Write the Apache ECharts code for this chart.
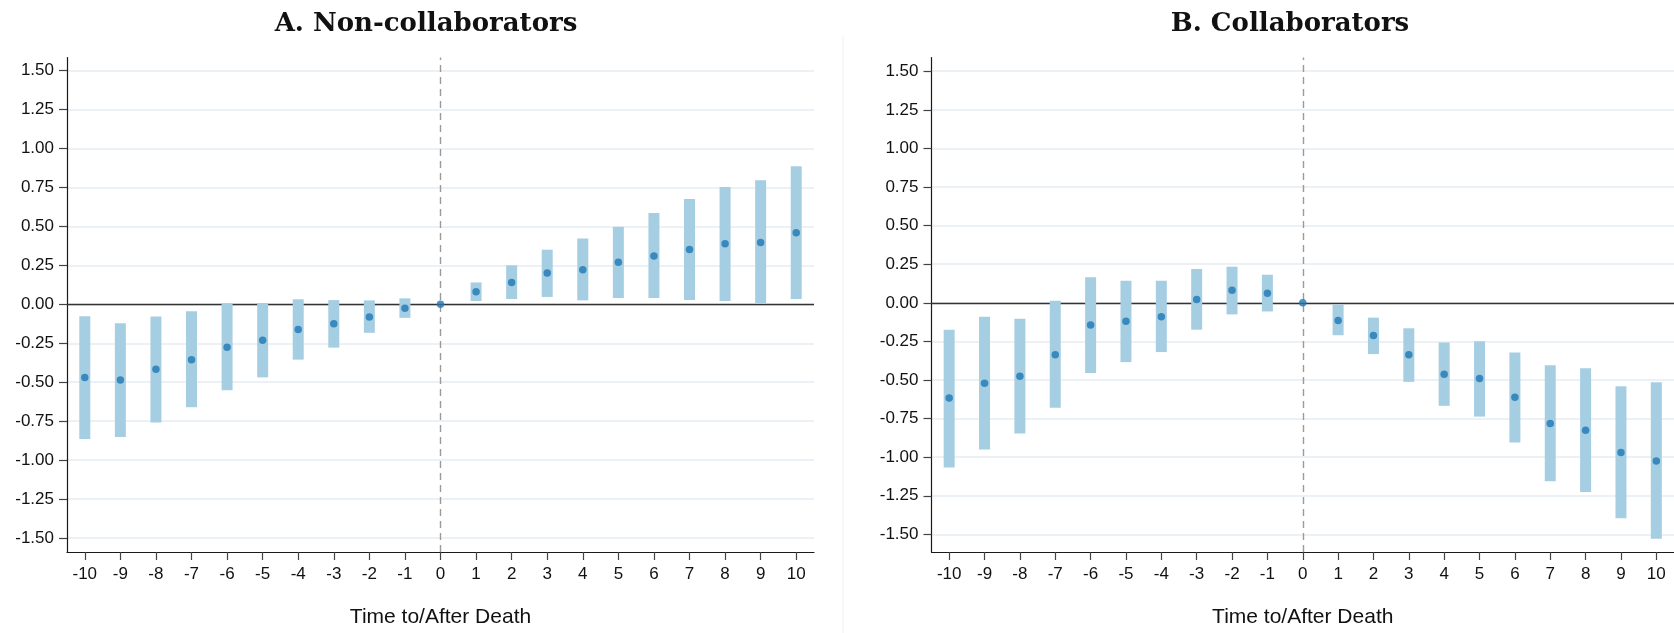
<!DOCTYPE html>
<html>
<head>
<meta charset="utf-8">
<script src="https://cdn.jsdelivr.net/npm/echarts@6/dist/echarts.min.js"></script>
<style>
html,body{margin:0;padding:0;background:#fff;}
#chart{width:1674px;height:633px;}
</style>
</head>
<body>
<div id="chart"></div>
<script>
// ---- data ----
const categories = ['-10','-9','-8','-7','-6','-5','-4','-3','-2','-1','0','1','2','3','4','5','6','7','8','9','10'];
const yTicks = [-1.5,-1.25,-1,-0.75,-0.5,-0.25,0,0.25,0.5,0.75,1,1.25,1.5];

const titleA = 'A. Non-collaborators';
const titleB = 'B. Collaborators';
const xName = 'Time to/After Death';

// Panel A: point estimates and 95% CI bounds
const estA = [-0.469,-0.486,-0.416,-0.355,-0.276,-0.231,-0.161,-0.125,-0.081,-0.025,0,0.081,0.140,0.200,0.221,0.270,0.310,0.352,0.389,0.397,0.459];
const loA  = [-0.864,-0.851,-0.758,-0.660,-0.552,-0.469,-0.355,-0.278,-0.183,-0.087,null,0.021,0.034,0.047,0.025,0.040,0.040,0.027,0.021,0.006,0.034];
const hiA  = [-0.076,-0.121,-0.078,-0.045,0.005,0.008,0.032,0.027,0.025,0.038,null,0.140,0.250,0.350,0.422,0.497,0.586,0.675,0.752,0.796,0.885];

// Panel B
const estB = [-0.617,-0.521,-0.476,-0.337,-0.144,-0.120,-0.090,0.021,0.082,0.062,0,-0.114,-0.212,-0.337,-0.463,-0.491,-0.611,-0.782,-0.825,-0.969,-1.025];
const loB  = [-1.066,-0.950,-0.847,-0.680,-0.455,-0.384,-0.319,-0.174,-0.075,-0.056,null,-0.210,-0.332,-0.512,-0.667,-0.737,-0.905,-1.155,-1.226,-1.395,-1.528];
const hiB  = [-0.174,-0.090,-0.103,0.013,0.165,0.143,0.143,0.219,0.234,0.182,null,-0.011,-0.096,-0.165,-0.257,-0.249,-0.322,-0.405,-0.424,-0.540,-0.514];

// ---- styles ----
const BAR = '#a6cee3', DOT = '#1f78b4', GRID = '#e4edf0', AXIS = '#1a1a1a';
const LF = 'Liberation Sans, Arial, sans-serif';

function ciData(lo, hi){
  const out = [];
  lo.forEach((v,i)=>{ if(v!=null && hi[i]!=null) out.push([i, v, hi[i]]); });
  return out;
}
function renderCI(params, api){
  const i = api.value(0);
  const a = api.coord([i, api.value(1)]);
  const b = api.coord([i, api.value(2)]);
  const w = 11;
  return {type:'rect', shape:{x:a[0]-w/2, y:b[1], width:w, height:a[1]-b[1]}, style:{fill:BAR}};
}
function xAxisCfg(idx){
  return {
    type:'category', gridIndex:idx, data:categories, boundaryGap:true,
    axisLine:{show:true, onZero:false, lineStyle:{color:AXIS, width:1.2}},
    axisTick:{show:true, alignWithLabel:true, length:8, lineStyle:{color:'#444', width:1.2}},
    axisLabel:{show:true, interval:0, margin:14, fontFamily:LF, fontSize:17, color:'#111'},
    splitLine:{show:false},
    name:xName, nameLocation:'middle', nameGap:55,
    nameTextStyle:{fontFamily:LF, fontSize:21, color:'#111'}
  };
}
function yAxisCfg(idx, mn, mx){
  return {
    type:'value', gridIndex:idx, min:mn, max:mx,
    axisLine:{show:true, lineStyle:{color:AXIS, width:1.2}},
    axisTick:{show:true, length:8, customValues:yTicks, lineStyle:{color:'#444', width:1.2}},
    axisLabel:{show:true, margin:13, customValues:yTicks, fontFamily:LF, fontSize:17, color:'#111',
      formatter:v=>v.toFixed(2)},
    splitLine:{show:true, lineStyle:{color:GRID, width:1.5}}
  };
}
function seriesFor(idx, est, lo, hi){
  return [
    {type:'custom', xAxisIndex:idx, yAxisIndex:idx, data:ciData(lo,hi), renderItem:renderCI, z:2, silent:true},
    {type:'scatter', xAxisIndex:idx, yAxisIndex:idx, data:est.map((v,i)=>[i,v]), symbol:'circle', symbolSize:7.5,
      itemStyle:{color:DOT}, z:5, silent:true,
      markLine:{silent:true, symbol:'none', label:{show:false}, z:1,
        data:[
          {yAxis:0, lineStyle:{color:'#333', width:1.4, type:'solid'}},
          {xAxis:10, lineStyle:{color:'#9a9a9a', width:1.4, type:[7,5]}}
        ]}
    }
  ];
}

const chart = echarts.init(document.getElementById('chart'), null, {renderer:'canvas'});
chart.setOption({
  backgroundColor:'#fff',
  animation:false,
  title:[
    {text:titleA, left:421, top:6, textAlign:'center',
      textStyle:{fontFamily:'DejaVu Serif, serif', fontWeight:'bold', fontSize:26, color:'#111'}},
    {text:titleB, left:1285, top:6, textAlign:'center',
      textStyle:{fontFamily:'DejaVu Serif, serif', fontWeight:'bold', fontSize:26, color:'#111'}}
  ],
  grid:[
    {left:67, top:57.5, width:747, height:499.2, containLabel:false},
    {left:931.5, top:57.5, width:743.6, height:499.2, containLabel:false}
  ],
  xAxis:[xAxisCfg(0), xAxisCfg(1)],
  yAxis:[yAxisCfg(0,-1.589,1.583), yAxisCfg(1,-1.614,1.589)],
  graphic:[
    {type:'line', shape:{x1:843, y1:36, x2:843, y2:633}, style:{stroke:'#edf1f2', lineWidth:1}, silent:true}
  ],
  series:[].concat(seriesFor(0, estA, loA, hiA), seriesFor(1, estB, loB, hiB))
});
</script>
</body>
</html>
